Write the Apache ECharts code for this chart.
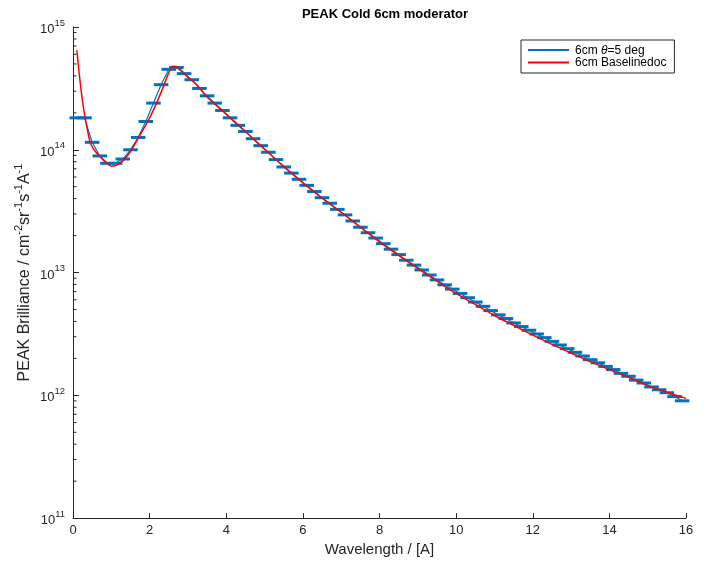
<!DOCTYPE html>
<html>
<head>
<meta charset="utf-8">
<script src="https://cdn.jsdelivr.net/npm/echarts@6/dist/echarts.min.js"></script>
<style>html,body{margin:0;padding:0;background:#fff;}#c{width:709px;height:562px;}</style>
</head>
<body>
<div id="c"></div>
<script>
// Blue: 6cm theta=5 deg (bin centres and values)
const blueX = [0.1,0.3,0.5,0.7,0.9,1.1,1.3,1.5,1.7,1.9,2.1,2.3,2.5,2.7,2.9,3.1,3.3,3.5,3.7,3.9,
  4.1,4.3,4.5,4.7,4.9,5.1,5.3,5.5,5.7,5.9,6.1,6.3,6.5,6.7,6.9,7.1,7.3,7.5,7.7,7.9,
  8.1,8.3,8.5,8.7,8.9,9.1,9.3,9.5,9.7,9.9,10.1,10.3,10.5,10.7,10.9,11.1,11.3,11.5,11.7,11.9,
  12.1,12.3,12.5,12.7,12.9,13.1,13.3,13.5,13.7,13.9,14.1,14.3,14.5,14.7,14.9,15.1,15.3,15.5,15.7,15.9];
const blueY = [1.82e14,1.82e14,1.15e14,8.91e13,7.76e13,7.76e13,8.41e13,1.0e14,1.26e14,1.70e14,
  2.40e14,3.39e14,4.52e14,4.68e14,4.17e14,3.72e14,3.16e14,2.75e14,2.40e14,2.09e14,
  1.82e14,1.58e14,1.41e14,1.23e14,1.08e14,9.55e13,8.32e13,7.24e13,6.46e13,5.75e13,
  5.13e13,4.57e13,4.07e13,3.67e13,3.27e13,2.95e13,2.63e13,2.34e13,2.11e13,1.91e13,
  1.72e13,1.55e13,1.40e13,1.26e13,1.15e13,1.05e13,9.55e12,8.71e12,7.94e12,7.33e12,
  6.76e12,6.24e12,5.75e12,5.31e12,4.90e12,4.52e12,4.22e12,3.89e12,3.63e12,3.39e12,
  3.16e12,2.95e12,2.75e12,2.57e12,2.40e12,2.24e12,2.09e12,1.95e12,1.84e12,1.72e12,
  1.62e12,1.51e12,1.43e12,1.33e12,1.26e12,1.17e12,1.11e12,1.05e12,9.77e11,9.02e11];
// Red: 6cm Baselinedoc
const redX = [0.1,0.2,0.27,0.36,0.44,0.53,0.7,0.88,1.01,1.18,1.36,1.53,1.75,1.97,2.18,2.36,2.49,2.62,2.75,2.97,3.23,
  3.5,4.0,4.5,5.0,5.5,6.0,6.5,7.0,7.5,8.0,8.5,9.0,9.5,10.0,10.5,11.0,11.5,12.0,12.5,13.0,13.5,14.0,14.5,15.0,15.5,16.0];
const redY = [6.46e14,3.27e14,2.24e14,1.55e14,1.17e14,1.02e14,8.81e13,7.76e13,7.33e13,7.59e13,8.51e13,1.0e14,1.32e14,1.74e14,2.40e14,3.27e14,4.17e14,4.79e14,4.68e14,3.98e14,3.39e14,
  2.69e14,1.95e14,1.41e14,1.01e14,7.33e13,5.37e13,4.03e13,3.09e13,2.34e13,1.78e13,1.38e13,1.08e13,8.51e12,6.76e12,5.50e12,4.47e12,3.72e12,3.09e12,2.60e12,2.21e12,1.88e12,1.62e12,1.40e12,1.20e12,1.06e12,9.44e11];
const xTicks = [0,2,4,6,8,10,12,14,16];
const yMinorTicks = [2e11,3e11,4e11,5e11,6e11,7e11,8e11,9e11,2e12,3e12,4e12,5e12,6e12,7e12,8e12,9e12,
  2e13,3e13,4e13,5e13,6e13,7e13,8e13,9e13,2e14,3e14,4e14,5e14,6e14,7e14,8e14,9e14];

const blueName = '6cm θ=5 deg';
const redName = '6cm Baselinedoc';
const BLUE = '#0072BD', RED = '#FF0000', INK = '#262626';
const FONT = '"Liberation Sans", Arial, sans-serif';

const chart = echarts.init(document.getElementById('c'), null, {renderer: 'canvas'});
chart.setOption({
  animation: false,
  backgroundColor: '#fff',
  title: {
    text: 'PEAK Cold 6cm moderator', left: 380, top: 3, textAlign: 'center',
    textStyle: {fontFamily: FONT, fontSize: 13, fontWeight: 'bold', color: '#000'}
  },
  legend: {
    left: 521, top: 40, orient: 'vertical', itemGap: 0,
    itemWidth: 41, itemHeight: 2, icon: 'rect',
    borderColor: INK, borderWidth: 1, borderRadius: 0, padding: [4, 8, 4, 7],
    backgroundColor: '#fff',
    data: [blueName, redName],
    formatter: function (n) {
      if (n === blueName) return '{a|6cm }{i|θ}{a|=5 deg}';
      return '{a|' + n + '}';
    },
    textStyle: {
      fontFamily: FONT, fontSize: 12, color: '#000', lineHeight: 11, padding: [1,0,0,1],
      rich: {a: {fontFamily: FONT, fontSize: 12, color: '#000'}, i: {fontFamily: FONT, fontSize: 12, fontStyle: 'italic', color: '#000'}}
    }
  },
  grid: {left: 73, right: 23, top: 27, bottom: 43, containLabel: false},
  xAxis: {
    type: 'value', min: 0, max: 16, interval: 2,
    name: 'Wavelength / [A]', nameLocation: 'middle', nameGap: 22,
    nameTextStyle: {fontFamily: FONT, fontSize: 15, color: INK},
    axisLine: {lineStyle: {color: INK, width: 1}},
    axisTick: {inside: true, length: 5, lineStyle: {color: INK}},
    axisLabel: {fontFamily: FONT, fontSize: 13, color: INK, margin: 6,
      formatter: v => xTicks.indexOf(v) >= 0 ? String(v) : ''},
    splitLine: {show: false}
  },
  yAxis: {
    type: 'log', logBase: 10, min: 1e11, max: 1e15, splitNumber: 4,
    name: '{n|PEAK Brilliance / cm}{s|-2}{n|sr}{s|-1}{n|s}{s|-1}{n|A}{s|-1}',
    nameLocation: 'middle', nameGap: 40, nameRotate: 90, nameMoveOverlap: false,
    nameTextStyle: {
      fontFamily: FONT, fontSize: 16, color: INK,
      rich: {
        n: {fontFamily: FONT, fontSize: 16, color: INK, lineHeight: 20, verticalAlign: 'bottom'},
        s: {fontFamily: FONT, fontSize: 11, color: INK, lineHeight: 20, verticalAlign: 'top'}
      }
    },
    axisLine: {show: true, lineStyle: {color: INK, width: 1}},
    axisTick: {show: true, inside: true, length: 6, lineStyle: {color: INK}},
    minorTick: {show: false},
    axisLabel: {
      margin: 8, color: INK,
      formatter: v => '{b|10}{s|' + Math.round(Math.log10(v)) + '}',
      rich: {
        b: {fontFamily: FONT, fontSize: 13, color: INK, lineHeight: 18, verticalAlign: 'bottom'},
        s: {fontFamily: FONT, fontSize: 9.5, color: INK, lineHeight: 18, verticalAlign: 'top'}
      }
    },
    splitLine: {show: false}
  },
  series: [
    {
      type: 'custom', name: 'minorTicks', silent: true, clip: false, z: 1,
      data: yMinorTicks.map(v => [0, v]),
      renderItem: function (params, api) {
        const p = api.coord([0, api.value(1)]);
        return {type: 'line', shape: {x1: p[0], y1: p[1], x2: p[0] + 3.5, y2: p[1]},
          style: {stroke: INK, lineWidth: 1}};
      }
    },
    {
      type: 'line', name: blueName, data: blueX.map((x, i) => [x, blueY[i]]),
      showSymbol: false, symbol: 'none', lineStyle: {color: BLUE, width: 1.2}, itemStyle: {color: BLUE}, z: 2
    },
    {
      type: 'custom', name: 'blueBars', silent: true, z: 3,
      data: blueX.map((x, i) => [x, blueY[i]]),
      renderItem: function (params, api) {
        const x = api.value(0), y = api.value(1);
        const a = api.coord([x - 0.19, y]), b = api.coord([x + 0.19, y]);
        return {type: 'line', shape: {x1: a[0], y1: a[1], x2: b[0], y2: b[1]},
          style: {stroke: BLUE, lineWidth: 3}};
      }
    },
    {
      type: 'line', name: redName, data: redX.map((x, i) => [x, redY[i]]),
      showSymbol: false, symbol: 'none', smooth: 0.35, lineStyle: {color: RED, width: 1.5}, itemStyle: {color: RED}, z: 4
    }
  ]
});
</script>
</body>
</html>
